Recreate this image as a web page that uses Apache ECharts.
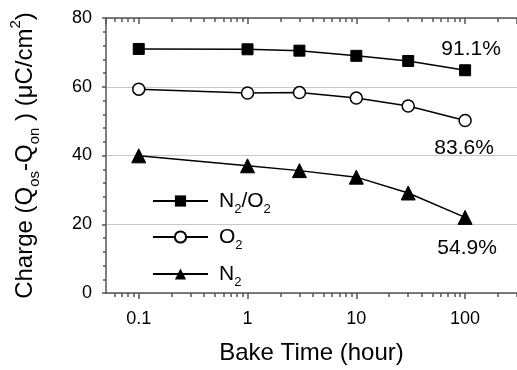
<!DOCTYPE html>
<html>
<head>
<meta charset="utf-8">
<script src="https://cdn.jsdelivr.net/npm/echarts@6/dist/echarts.min.js"></script>
<style>
  html, body { margin: 0; padding: 0; background: #fff; }
  #chart { width: 517px; height: 370px; }
</style>
</head>
<body>
<div id="chart"></div>
<script>
// data
var bakeTime = [0.1, 1, 3, 10, 30, 100];
var n2o2 = [71.0, 70.9, 70.5, 69.0, 67.5, 64.8];
var o2 = [59.3, 58.2, 58.3, 56.7, 54.4, 50.2];
var n2 = [39.9, 37.0, 35.6, 33.7, 29.1, 22.0];
var retention = ['91.1%', '83.6%', '54.9%'];
var seriesNames = ['N2/O2', 'O2', 'N2'];
var yTicks = [0, 20, 40, 60, 80];
// minor ticks of the log axis (2..9 per decade)
var minorTicks = [0.06, 0.07, 0.08, 0.09,
  0.2, 0.3, 0.4, 0.5, 0.6, 0.7, 0.8, 0.9,
  2, 3, 4, 5, 6, 7, 8, 9,
  20, 30, 40, 50, 60, 70, 80, 90,
  200, 300];

var xMin = 0.05, xMax = 300;
var font = 'Liberation Sans, Arial, sans-serif';
var axisColor = '#555';
var minorLog = minorTicks.map(function (v) { return Math.log10(v); });

var mychart = echarts.init(document.getElementById('chart'));

function makeData(vals, labelText, labelOpt) {
    return vals.map(function (v, i) {
        if (i === vals.length - 1) {
            return {
                value: [bakeTime[i], v],
                label: Object.assign({
                    show: true,
                    formatter: labelText,
                    fontSize: 21,
                    fontFamily: font,
                    color: '#000'
                }, labelOpt)
            };
        }
        return [bakeTime[i], v];
    });
}

function subName(name) {
    return name.replace(/2/g, '{s|2}');
}

function legendAt(name, top) {
    return {
        data: [name],
        left: 147,
        top: top,
        orient: 'vertical',
        itemWidth: 55,
        itemHeight: 14,
        formatter: subName,
        textStyle: {
            fontSize: 21,
            fontFamily: font,
            color: '#000',
            lineHeight: 30,
            padding: [0, 0, 0, 6],
            rich: {
                s: { fontSize: 13, fontFamily: font, color: '#000', verticalAlign: 'bottom', lineHeight: 13 }
            }
        }
    };
}

var lineStyle = { color: '#000', width: 1.5 };

option = {
    animation: false,
    grid: { left: 105, right: 0, top: 18, bottom: 77 },
    legend: [
        legendAt(seriesNames[0], 181),
        legendAt(seriesNames[1], 217),
        legendAt(seriesNames[2], 254)
    ],
    xAxis: [
        {
            // main log axis
            type: 'log',
            logBase: 10,
            min: xMin,
            max: xMax,
            position: 'bottom',
            name: 'Bake Time (hour)',
            nameLocation: 'middle',
            nameGap: 48,
            nameTextStyle: { fontSize: 24, fontFamily: font, color: '#000' },
            axisLine: { onZero: false, lineStyle: { color: axisColor, width: 1.5 } },
            axisTick: { length: 6, lineStyle: { color: axisColor, width: 1.5 } },
            axisLabel: {
                fontSize: 18,
                fontFamily: font,
                color: '#000',
                margin: 17,
                showMinLabel: false,
                showMaxLabel: false,
                formatter: function (v) {
                    var l = Math.log10(v);
                    return Math.abs(l - Math.round(l)) < 1e-6 ? String(+v.toPrecision(3)) : '';
                }
            },
            splitLine: { show: false }
        },
        {
            // minor ticks, bottom
            type: 'value',
            min: Math.log10(xMin),
            max: Math.log10(xMax),
            position: 'bottom',
            axisLine: { show: false, onZero: false },
            axisTick: { length: 4, customValues: minorLog, lineStyle: { color: axisColor, width: 1.5 } },
            axisLabel: { show: false },
            splitLine: { show: false }
        },
        {
            // top mirror
            type: 'log',
            logBase: 10,
            min: xMin,
            max: xMax,
            position: 'top',
            axisLine: { onZero: false, lineStyle: { color: axisColor, width: 1.5 } },
            axisTick: { inside: true, length: 6, lineStyle: { color: axisColor, width: 1.5 } },
            axisLabel: { show: false },
            splitLine: { show: false }
        },
        {
            type: 'value',
            min: Math.log10(xMin),
            max: Math.log10(xMax),
            position: 'top',
            axisLine: { show: false, onZero: false },
            axisTick: { inside: true, length: 4, customValues: minorLog, lineStyle: { color: axisColor, width: 1.5 } },
            axisLabel: { show: false },
            splitLine: { show: false }
        }
    ],
    yAxis: {
        type: 'value',
        min: yTicks[0],
        max: yTicks[yTicks.length - 1],
        interval: 20,
        name: 'Charge (Q{s|os}-Q{s|on} ) (μC/cm{p|2})',
        nameLocation: 'middle',
        nameGap: 64,
        nameTextStyle: {
            fontSize: 24,
            fontFamily: font,
            color: '#000',
            lineHeight: 34,
            rich: {
                s: { fontSize: 15, fontFamily: font, color: '#000', verticalAlign: 'bottom', lineHeight: 15 },
                p: { fontSize: 15, fontFamily: font, color: '#000', verticalAlign: 'top', lineHeight: 15 }
            }
        },
        axisLine: { show: true, onZero: false, lineStyle: { color: axisColor, width: 1.5 } },
        axisTick: { show: true, length: 4, lineStyle: { color: axisColor, width: 1.5 } },
        minorTick: { show: true, splitNumber: 5, length: 3, lineStyle: { color: axisColor, width: 1.5 } },
        axisLabel: { fontSize: 18, fontFamily: font, color: '#000', margin: 14 },
        splitLine: { show: true, lineStyle: { color: '#c8c8c8', width: 1 } }
    },
    series: [
        {
            name: seriesNames[0],
            type: 'line',
            symbol: 'rect',
            symbolSize: 11,
            itemStyle: { color: '#000', borderColor: '#000' },
            lineStyle: lineStyle,
            data: makeData(n2o2, retention[0], { position: 'top', distance: 5, offset: [6, 0] })
        },
        {
            name: seriesNames[1],
            type: 'line',
            symbol: 'circle',
            symbolSize: 12,
            itemStyle: { color: '#fff', borderColor: '#000', borderWidth: 1.5 },
            lineStyle: lineStyle,
            data: makeData(o2, retention[1], { position: 'bottom', distance: 11, offset: [-1, 0] })
        },
        {
            name: seriesNames[2],
            type: 'line',
            symbol: 'triangle',
            symbolSize: 14,
            itemStyle: { color: '#000', borderColor: '#000' },
            lineStyle: lineStyle,
            data: makeData(n2, retention[2], { position: 'bottom', distance: 13, offset: [2, 0] })
        }
    ]
};
mychart.setOption(option);
</script>
</body>
</html>
